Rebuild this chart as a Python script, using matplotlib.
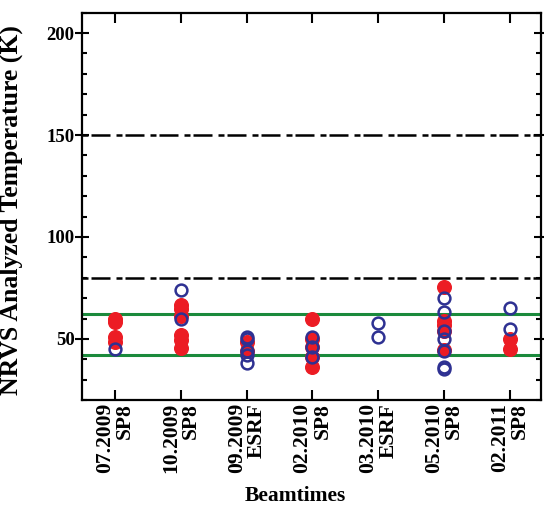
import matplotlib
matplotlib.use("Agg")
import matplotlib.pyplot as plt
from matplotlib.ticker import MultipleLocator

# beamtime labels
beamtimes = ["07.2009\nSP8", "10.2009\nSP8", "09.2009\nESRF", "02.2010\nSP8",
             "03.2010\nESRF", "05.2010\nSP8", "02.2011\nSP8"]

# filled red points per beamtime
red_vals = [
    [60, 58.5, 51, 48.5],
    [66.5, 64.5, 61, 52, 49.5, 45.5],
    [48.5, 44],
    [60, 50, 46, 41, 36],
    [],
    [75.5, 59, 57, 54, 44.5],
    [50, 45],
]

# open blue points per beamtime
blue_vals = [
    [45],
    [74, 60],
    [51, 50, 44, 42, 38],
    [51, 46, 41],
    [58, 51],
    [70, 63, 54, 50, 44, 36, 35],
    [65, 55],
]

# reference lines
dash_levels = [150, 80]
green_levels = [62, 42]

plt.rcParams['font.family'] = ['Liberation Serif', 'DejaVu Serif']
plt.rcParams['font.weight'] = 'bold'

fig = plt.figure(figsize=(5.44, 5.09), dpi=100)
ax = fig.add_axes([0.151, 0.214, 0.843, 0.761])

for lev in dash_levels:
    ax.axhline(lev, color='black', lw=1.8, dashes=(2.4, 1.2, 7.6, 2.4), zorder=1)
for lev in green_levels:
    ax.axhline(lev, color='#1b8a3c', lw=2.2, zorder=1)

for i, vals in enumerate(red_vals):
    ax.plot([i + 1] * len(vals), vals, 'o', color='#ec1c24', ms=9.8,
            mec='#ec1c24', zorder=3)
for i, vals in enumerate(blue_vals):
    ax.plot([i + 1] * len(vals), vals, 'o', mfc='none', mec='#2e3192',
            ms=8.5, mew=1.8, zorder=4)

ax.set_xlim(0.5, 7.47)
ax.set_ylim(20, 210)
ax.set_xticks(range(1, 8))
ax.set_xticklabels(beamtimes, rotation=90, fontsize=15.5, fontweight='bold',
                   ha='center', va='top', multialignment='right',
                   linespacing=1.0)
ax.yaxis.set_minor_locator(MultipleLocator(10))
ax.set_yticks([50, 100, 150, 200])
ax.set_yticklabels(['50', '100', '150', '200'], fontsize=13.5, fontweight='bold')

ax.tick_params(axis='x', which='major', direction='in', length=7.5, width=1.5,
               top=True, bottom=True, pad=2)
ax.tick_params(axis='y', which='major', direction='inout', length=10, width=1.5,
               left=True, right=True, pad=0.5)
ax.tick_params(axis='y', which='minor', direction='in', length=3.5, width=1.5,
               left=True, right=True)
for sp in ax.spines.values():
    sp.set_linewidth(1.6)

ax.set_ylabel('NRVS Analyzed Temperature (K)', fontsize=18.5, fontweight='bold')
ax.yaxis.set_label_coords(-0.13, 0.49)
ax.set_xlabel('Beamtimes', fontsize=15.5, fontweight='bold')
ax.xaxis.set_label_coords(0.465, -0.222)

fig.savefig('out.png', dpi=100)
